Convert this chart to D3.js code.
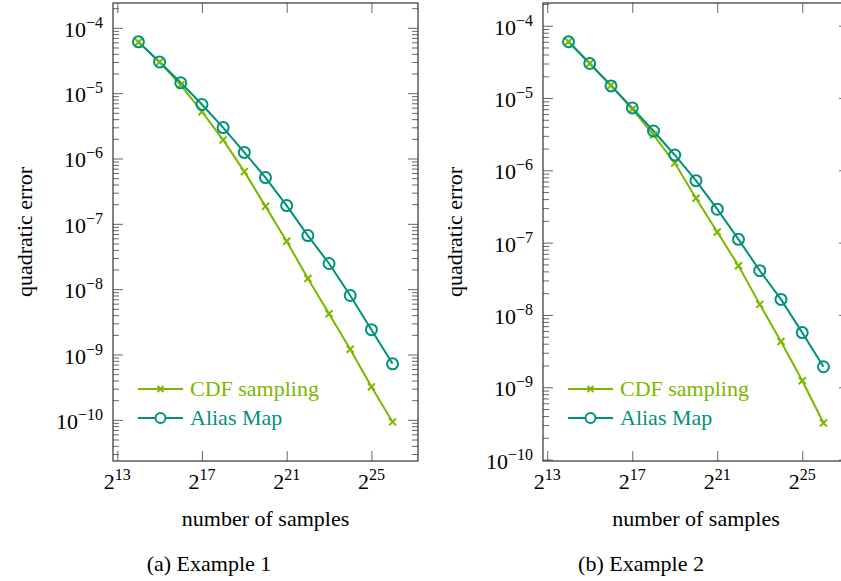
<!DOCTYPE html>
<html>
<head>
<meta charset="utf-8">
<script src="https://cdn.jsdelivr.net/npm/d3@7"></script>
<style>
  body { margin: 0; background: #fff; }
  text { font-family: "Liberation Serif", "Times New Roman", Times, serif; }
</style>
</head>
<body>
<svg id="chart" width="841" height="581" font-family="Liberation Serif, Times New Roman, serif"></svg>
<script>
// number of samples (2^14 .. 2^26)
const samples = [16384, 32768, 65536, 131072, 262144, 524288, 1048576,
  2097152, 4194304, 8388608, 16777216, 33554432, 67108864];

const ex1Cdf = [6.0e-5, 3.0e-5, 1.33e-5, 5.2e-6, 1.93e-6, 6.3e-7, 1.85e-7,
  5.4e-8, 1.46e-8, 4.2e-9, 1.2e-9, 3.2e-10, 9.3e-11];
const ex1Alias = [6.1e-5, 3.0e-5, 1.44e-5, 6.7e-6, 2.97e-6, 1.24e-6, 5.1e-7,
  1.9e-7, 6.6e-8, 2.47e-8, 8.0e-9, 2.4e-9, 7.2e-10];
const ex2Cdf = [6.0e-5, 3.0e-5, 1.5e-5, 7.0e-6, 3.1e-6, 1.26e-6, 4.1e-7,
  1.4e-7, 4.8e-8, 1.4e-8, 4.3e-9, 1.23e-9, 3.2e-10];
const ex2Alias = [6.0e-5, 3.0e-5, 1.47e-5, 7.3e-6, 3.5e-6, 1.63e-6, 7.2e-7,
  2.9e-7, 1.11e-7, 4.1e-8, 1.64e-8, 5.7e-9, 1.92e-9];

const xTickExps = [13, 17, 21, 25];
const yTickExps = [-4, -5, -6, -7, -8, -9, -10];
const seriesNames = ["CDF sampling", "Alias Map"];
const captions = ["(a) Example 1", "(b) Example 2"];

const cdfColor = "#7ab800";
const aliasColor = "#00917c";

const svg = d3.select("#chart");
const serif = "'Liberation Serif', 'Times New Roman', serif";
const font = 22, supFont = 16;

const panels = [
  { left: 113, top: 3, width: 305, height: 458, xDom: [12.8, 27.2], yDom: [-10.63, -3.62],
    cdf: ex1Cdf, alias: ex1Alias, caption: captions[0], labelX: 25, captionX: 209 },
  { left: 543, top: 3, width: 306, height: 458, xDom: [12.8, 27.2], yDom: [-10.02, -3.686],
    cdf: ex2Cdf, alias: ex2Alias, caption: captions[1], labelX: 455, captionX: 641 }
];

function supText(sel, base, exp) {
  sel.text(null);
  sel.append("tspan").text(base);
  sel.append("tspan").attr("dy", -9).attr("font-size", supFont).text(exp);
}

panels.forEach((p) => {
  const g = svg.append("g").attr("transform", `translate(${p.left},${p.top})`);
  const w = p.width, h = p.height;

  const x = d3.scaleLog().base(2)
    .domain([Math.pow(2, p.xDom[0]), Math.pow(2, p.xDom[1])]).range([0, w]);
  const y = d3.scaleLog()
    .domain([Math.pow(10, p.yDom[0]), Math.pow(10, p.yDom[1])]).range([h, 0]);

  const xTicks = xTickExps.map((e) => Math.pow(2, e));
  const yTicks = yTickExps.map((e) => Math.pow(10, e));
  const yMinor = [];
  for (let k = -11; k <= -3; k++) {
    for (let m = 2; m <= 9; m++) {
      const v = m * Math.pow(10, k);
      if (v > y.domain()[0] && v < y.domain()[1]) yMinor.push(v);
    }
  }

  // ticks (inward, mirrored)
  const tickStyle = (a) => {
    a.select(".domain").remove();
    a.selectAll(".tick line").attr("stroke", "#666").attr("stroke-width", 1);
  };
  g.append("g").attr("transform", `translate(0,${h})`)
    .call(d3.axisBottom(x).tickValues(xTicks).tickSize(-10).tickFormat(""))
    .call(tickStyle);
  g.append("g")
    .call(d3.axisTop(x).tickValues(xTicks).tickSize(-10).tickFormat(""))
    .call(tickStyle);
  g.append("g")
    .call(d3.axisLeft(y).tickValues(yTicks).tickSize(-10).tickFormat(""))
    .call(tickStyle);
  g.append("g").attr("transform", `translate(${w},0)`)
    .call(d3.axisRight(y).tickValues(yTicks).tickSize(-10).tickFormat(""))
    .call(tickStyle);
  g.append("g")
    .call(d3.axisLeft(y).tickValues(yMinor).tickSize(-6).tickFormat(""))
    .call(tickStyle);
  g.append("g").attr("transform", `translate(${w},0)`)
    .call(d3.axisRight(y).tickValues(yMinor).tickSize(-6).tickFormat(""))
    .call(tickStyle);

  // frame
  g.append("rect").attr("width", w).attr("height", h)
    .attr("fill", "none").attr("stroke", "#333").attr("stroke-width", 1.2);

  // tick labels
  g.selectAll(".xlab").data(xTickExps).enter().append("text")
    .attr("class", "xlab")
    .attr("x", (d) => x(Math.pow(2, d)))
    .attr("y", h + 28)
    .attr("text-anchor", "middle")
    .attr("font-family", serif)
    .attr("font-size", font)
    .each(function (d) { supText(d3.select(this), "2", String(d)); });

  g.selectAll(".ylab").data(yTickExps).enter().append("text")
    .attr("class", "ylab")
    .attr("x", -10)
    .attr("y", (d) => y(Math.pow(10, d)) + 9)
    .attr("text-anchor", "end")
    .attr("font-family", serif)
    .attr("font-size", font)
    .each(function (d) { supText(d3.select(this), "10", "\u2212" + Math.abs(d)); });

  // series
  const line = d3.line().x((d) => x(d[0])).y((d) => y(d[1]));
  const cdfPts = samples.map((s, i) => [s, p.cdf[i]]);
  const aliasPts = samples.map((s, i) => [s, p.alias[i]]);

  g.append("path").datum(cdfPts).attr("d", line)
    .attr("fill", "none").attr("stroke", cdfColor).attr("stroke-width", 2);
  g.append("path").datum(aliasPts).attr("d", line)
    .attr("fill", "none").attr("stroke", aliasColor).attr("stroke-width", 2);

  const cross = (sel, cx, cy, s) => {
    sel.append("path")
      .attr("d", `M${cx - s},${cy - s}L${cx + s},${cy + s}M${cx - s},${cy + s}L${cx + s},${cy - s}`)
      .attr("stroke", cdfColor).attr("stroke-width", 2).attr("fill", "none");
  };
  cdfPts.forEach((d) => cross(g, x(d[0]), y(d[1]), 3.5));

  g.selectAll(".alias-dot").data(aliasPts).enter().append("circle")
    .attr("class", "alias-dot")
    .attr("cx", (d) => x(d[0])).attr("cy", (d) => y(d[1]))
    .attr("r", 5.5).attr("fill", "none")
    .attr("stroke", aliasColor).attr("stroke-width", 2);

  // legend
  const leg = g.append("g").attr("transform", "translate(25,386)");
  [[cdfColor, seriesNames[0]], [aliasColor, seriesNames[1]]].forEach((s, i) => {
    const ly = i * 29;
    leg.append("line").attr("x1", 0).attr("x2", 45).attr("y1", ly).attr("y2", ly)
      .attr("stroke", s[0]).attr("stroke-width", 2);
    if (i === 0) cross(leg, 22.5, ly, 3);
    else leg.append("circle").attr("cx", 22.5).attr("cy", ly).attr("r", 5)
      .attr("fill", "#fff").attr("stroke", s[0]).attr("stroke-width", 2);
    leg.append("text").attr("x", 52).attr("y", ly + 7)
      .attr("font-family", serif)
      .attr("font-size", font).attr("fill", s[0]).text(s[1]);
  });

  // axis labels
  svg.append("text")
    .attr("transform", `translate(${p.labelX},${p.top + h / 2}) rotate(-90)`)
    .attr("y", 7)
    .attr("text-anchor", "middle")
    .attr("font-family", serif).attr("font-size", font)
    .text("quadratic error");
  svg.append("text")
    .attr("x", p.left + w / 2).attr("y", 526)
    .attr("text-anchor", "middle")
    .attr("font-family", serif).attr("font-size", font)
    .text("number of samples");
  svg.append("text")
    .attr("x", p.captionX).attr("y", 571)
    .attr("text-anchor", "middle")
    .attr("font-family", serif).attr("font-size", font)
    .text(p.caption);
});
</script>
</body>
</html>
